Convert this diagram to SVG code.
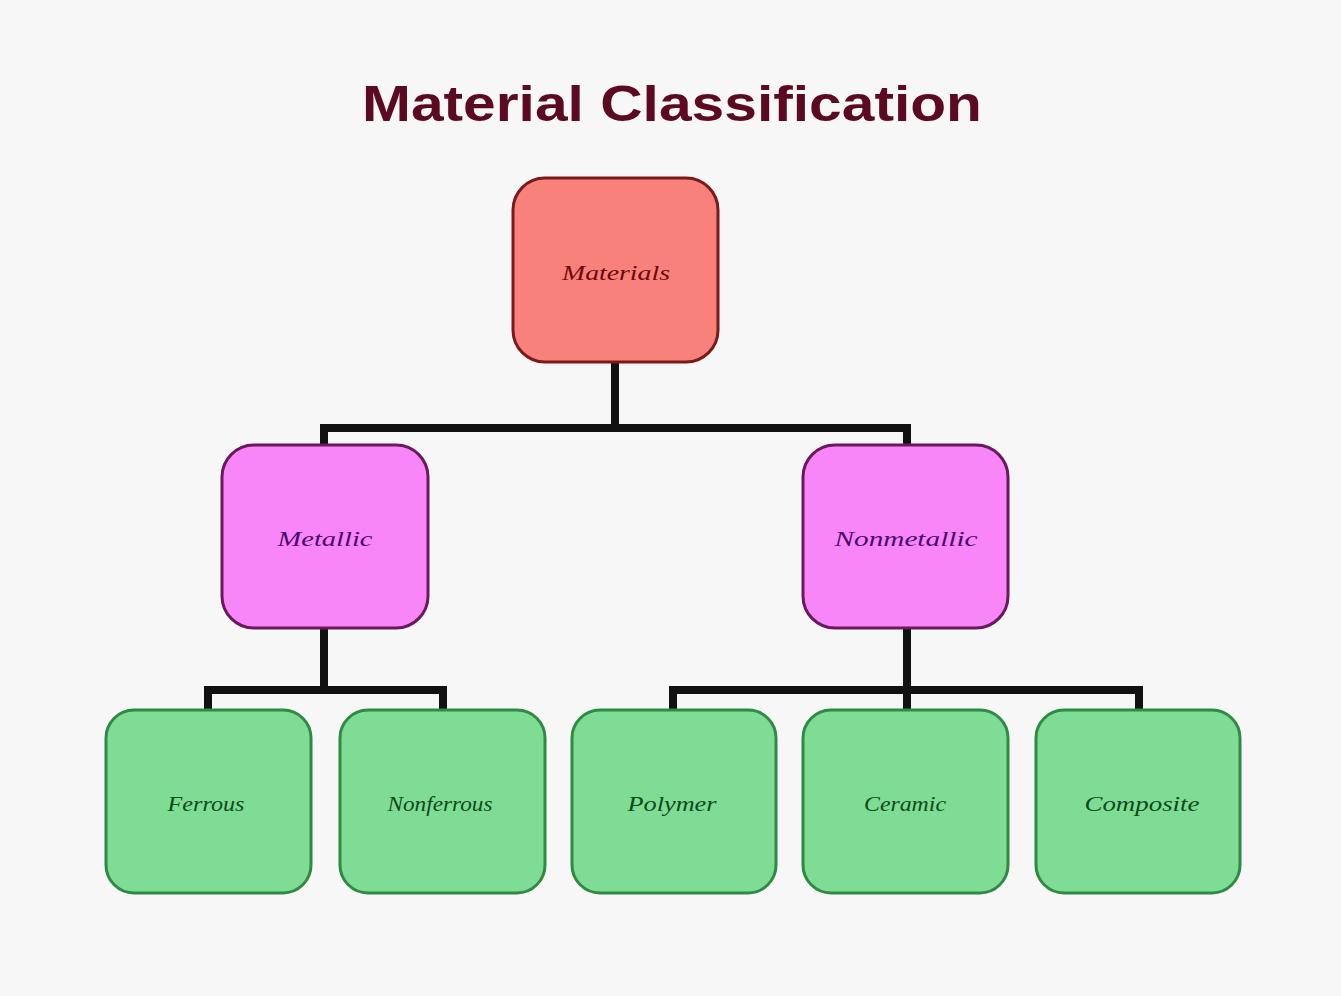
<svg xmlns="http://www.w3.org/2000/svg" width="1341" height="996" viewBox="0 0 1341 996">
<style>
.bg{fill:#f7f7f7}
.title{font-family:"Liberation Sans",Arial,sans-serif;font-weight:bold;font-size:50px;fill:#5c0a22}
.box{stroke-width:3}
.root{fill:#f8817b;stroke:#7a1a1a}
.mid{fill:#f986f9;stroke:#6a1a5a}
.leaf{fill:#7edc94;stroke:#2f8a45}
.lbl{font-family:"Liberation Serif","Times New Roman",serif;font-style:italic;font-size:22px;text-anchor:middle;dominant-baseline:central}
.lroot{fill:#6a0a0a}
.lmid{fill:#4a0a66}
.lleaf{fill:#0d4a1c}
.conn{fill:none;stroke:#111;stroke-width:8;stroke-linecap:square}
</style>
<rect class="bg" x="0" y="0" width="1341" height="996"/>
<text class="title" x="672" y="121" text-anchor="middle" textLength="620" lengthAdjust="spacingAndGlyphs">Material Classification</text>
<g id="connectors">
<path class="conn" d="M615 362 V428 M324 445 V428 H907 V445"/>
<path class="conn" d="M324 628 V690 M208 708 V690 H443 V708"/>
<path class="conn" d="M907 628 V690 M673 708 V690 H1139 V708 M907 690 V708"/>
</g>
<g id="materials">
<rect class="box root" x="513" y="178" width="205" height="184" rx="32"/>
<text class="lbl lroot" x="616" y="272" textLength="108" lengthAdjust="spacingAndGlyphs">Materials</text>
</g>
<g id="metallic">
<rect class="box mid" x="222" y="445" width="206" height="183" rx="32"/>
<text class="lbl lmid" x="325" y="538" textLength="95" lengthAdjust="spacingAndGlyphs">Metallic</text>
</g>
<g id="nonmetallic">
<rect class="box mid" x="803" y="445" width="205" height="183" rx="32"/>
<text class="lbl lmid" x="906" y="538" textLength="143" lengthAdjust="spacingAndGlyphs">Nonmetallic</text>
</g>
<g id="ferrous">
<rect class="box leaf" x="106" y="710" width="205" height="183" rx="28"/>
<text class="lbl lleaf" x="206" y="803" textLength="77" lengthAdjust="spacingAndGlyphs">Ferrous</text>
</g>
<g id="nonferrous">
<rect class="box leaf" x="340" y="710" width="205" height="183" rx="28"/>
<text class="lbl lleaf" x="440" y="803" textLength="105" lengthAdjust="spacingAndGlyphs">Nonferrous</text>
</g>
<g id="polymer">
<rect class="box leaf" x="572" y="710" width="204" height="183" rx="28"/>
<text class="lbl lleaf" x="672" y="803" textLength="89" lengthAdjust="spacingAndGlyphs">Polymer</text>
</g>
<g id="ceramic">
<rect class="box leaf" x="803" y="710" width="205" height="183" rx="28"/>
<text class="lbl lleaf" x="905" y="803" textLength="82" lengthAdjust="spacingAndGlyphs">Ceramic</text>
</g>
<g id="composite">
<rect class="box leaf" x="1036" y="710" width="204" height="183" rx="28"/>
<text class="lbl lleaf" x="1142" y="803" textLength="115" lengthAdjust="spacingAndGlyphs">Composite</text>
</g>
</svg>
